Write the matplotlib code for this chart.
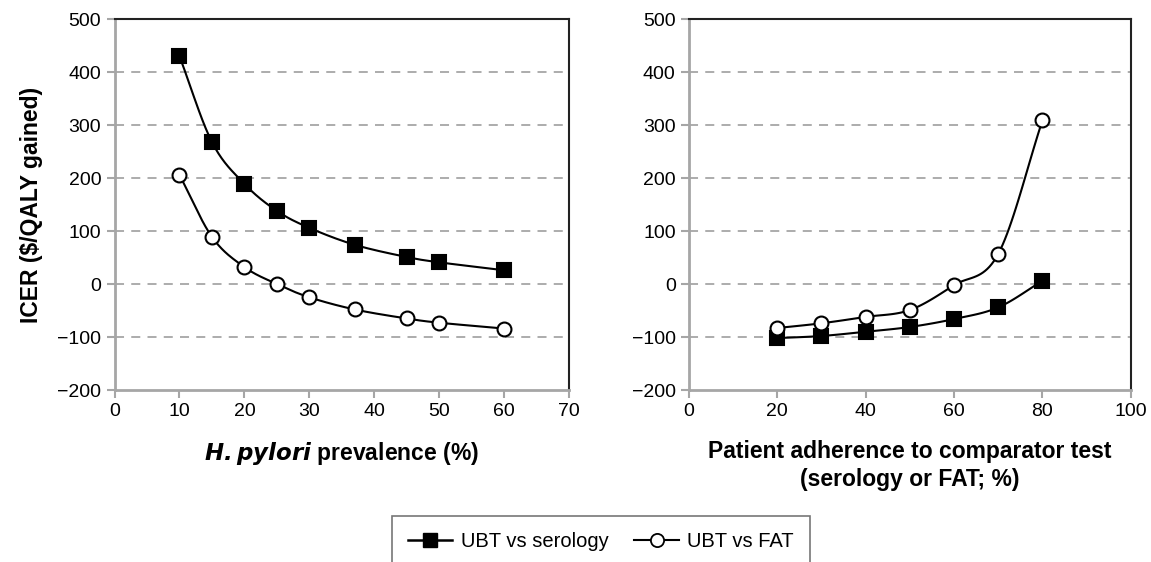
import numpy as np
import matplotlib
matplotlib.use('Agg')
import matplotlib.pyplot as plt
from matplotlib.lines import Line2D

plt.rcParams['font.family'] = ['Liberation Sans', 'DejaVu Sans']

# left panel: H. pylori prevalence
prev_x = [10, 15, 20, 25, 30, 37, 45, 50, 60]
prev_serology = [430, 268, 189, 138, 106, 74, 51, 41, 26]
prev_fat = [206, 89, 32, 0, -25, -48, -65, -73, -84]

# right panel: patient adherence
adh_x = [20, 30, 40, 50, 60, 70, 80]
adh_serology = [-102, -98, -90, -81, -66, -44, 6]
adh_fat = [-83, -74, -62, -49, -2, 57, 309]

y_ticks = [-200, -100, 0, 100, 200, 300, 400, 500]
y_labels = ['\u2212200', '\u2212100', '0', '100', '200', '300', '400', '500']

grey = '#a6a6a6'


def smooth(x, y, n=20):
    # Catmull-Rom style smoothing like Excel's smoothed lines (only for drawing the curve)
    x = np.asarray(x, float)
    y = np.asarray(y, float)
    px = np.concatenate([[2 * x[0] - x[1]], x, [2 * x[-1] - x[-2]]])
    py = np.concatenate([[2 * y[0] - y[1]], y, [2 * y[-1] - y[-2]]])
    xs, ys = [], []
    for i in range(1, len(px) - 2):
        t = np.linspace(0, 1, n, endpoint=False)
        for arr, out in ((px, xs), (py, ys)):
            p0, p1, p2, p3 = arr[i - 1], arr[i], arr[i + 1], arr[i + 2]
            out.extend(0.5 * ((2 * p1) + (-p0 + p2) * t
                              + (2 * p0 - 5 * p1 + 4 * p2 - p3) * t ** 2
                              + (-p0 + 3 * p1 - 3 * p2 + p3) * t ** 3))
    xs.append(x[-1])
    ys.append(y[-1])
    return xs, ys


def style_axes(ax, xmax, xstep):
    ax.set_xlim(0, xmax)
    ax.set_ylim(-200, 500)
    ax.set_xticks(np.arange(0, xmax + 1, xstep))
    ax.set_yticks(y_ticks)
    ax.set_yticklabels(y_labels)
    ax.tick_params(axis='both', colors=grey, labelcolor='black', labelsize=14,
                   length=6, width=1.5, direction='out')
    for s in ['left', 'bottom']:
        ax.spines[s].set_color(grey)
        ax.spines[s].set_linewidth(2)
    for s in ['top', 'right']:
        ax.spines[s].set_color('#222222')
        ax.spines[s].set_linewidth(1.5)
    for v in y_ticks[1:-1]:
        ax.axhline(v, color=grey, lw=1.3, ls=(0, (5, 4)), zorder=0)


def draw(ax, x, y, marker, face):
    sx, sy = smooth(x, y)
    ax.plot(sx, sy, color='black', lw=1.5, zorder=2)
    ax.plot(x, y, ls='none', marker=marker, ms=10 if marker == 'o' else 9.5,
            mfc=face, mec='black', mew=1.5, zorder=3, clip_on=False)


fig = plt.figure(figsize=(11.51, 5.62), dpi=100)
ax1 = fig.add_axes([0.0995, 0.306, 0.395, 0.660])
ax2 = fig.add_axes([0.5985, 0.306, 0.384, 0.660])

style_axes(ax1, 70, 10)
draw(ax1, prev_x, prev_serology, 's', 'black')
draw(ax1, prev_x, prev_fat, 'o', 'white')
ax1.set_ylabel('ICER ($/QALY gained)', fontsize=16.5, fontweight='bold', labelpad=10)
ax1.set_xlabel(r'$\bfit{H. pylori}$ prevalence (%)', fontsize=16.5, fontweight='bold', labelpad=14)

style_axes(ax2, 100, 20)
draw(ax2, adh_x, adh_serology, 's', 'black')
draw(ax2, adh_x, adh_fat, 'o', 'white')
ax2.set_xlabel('Patient adherence to comparator test\n(serology or FAT; %)',
               fontsize=16.5, fontweight='bold', labelpad=14, linespacing=1.3)

handles = [Line2D([], [], color='black', lw=1.8, marker='s', ms=10, mfc='black', mec='black'),
           Line2D([], [], color='black', lw=1.5, marker='o', ms=9.5, mfc='white', mec='black', mew=1.3)]
leg = fig.legend(handles, ['UBT vs serology', 'UBT vs FAT'], loc='upper center',
                 bbox_to_anchor=(0.522, 0.085 + 8 / 562), ncol=2, fontsize=14.5, frameon=True,
                 fancybox=False, edgecolor='#555555', handlelength=2.2,
                 borderpad=0.8, columnspacing=1.3, handletextpad=0.4)
leg.get_frame().set_linewidth(1.2)

fig.savefig('out.png', dpi=100)
